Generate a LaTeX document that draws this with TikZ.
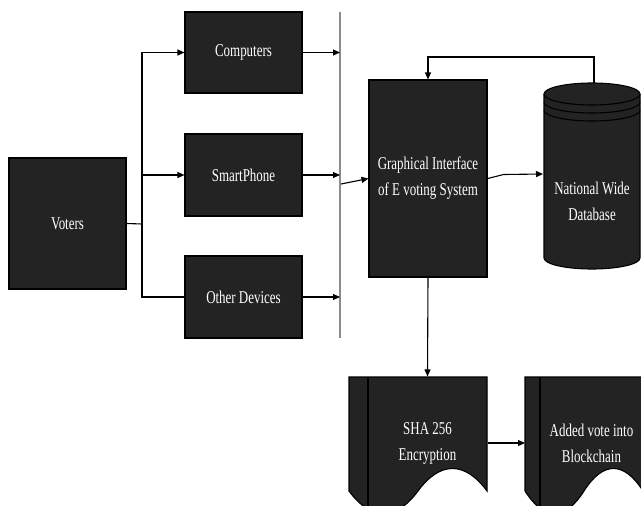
\documentclass[tikz,border=0pt]{standalone}
\usepackage{fontspec}
\setmainfont{Liberation Serif}[FakeStretch=0.72]
\usetikzlibrary{arrows.meta,calc,positioning}
\definecolor{boxgray}{HTML}{232323}
\definecolor{bargray}{HTML}{8C8C8C}
\tikzset{>={Triangle[length=7pt,width=6pt]},auto}
\tikzset{block/.style={draw=black,fill=boxgray,text=white,align=center,font=\fontsize{18}{26}\selectfont}}
\tikzset{label text/.style={text=white,align=center,font=\fontsize{18}{26}\selectfont}}

\begin{document}
\begin{tikzpicture}[x=1pt,y=-1pt,line width=1.1pt]
        \useasboundingbox (0,0) rectangle (641,506);
        \clip (0,0) rectangle (641,506);
        % database cylinder
        \filldraw[fill=boxgray,draw=black] (544,94) -- (544,258) arc[start angle=180,end angle=360,x radius=48pt,y radius=11pt]
                -- (640,94) arc[start angle=0,end angle=180,x radius=48pt,y radius=11pt] -- cycle;
        \foreach \y in {94,102,110}
                \draw[black] (544,\y) arc[start angle=180,end angle=360,x radius=48pt,y radius=11pt];
        % documents
        \filldraw[fill=boxgray,draw=black] (349,377) -- (487,377) -- (487,491) .. controls (465,461) and (440,461) .. (418,491)
                .. controls (396,521) and (371,521) .. (349,491) -- cycle;
        \draw[black] (368,377) -- (368,510);
        \filldraw[fill=boxgray,draw=black] (525,377) -- (643,377) -- (643,491) .. controls (624,461) and (603,461) .. (584,491)
                .. controls (565,521) and (544,521) .. (525,491) -- cycle;
        \draw[black] (540,377) -- (540,510);

        \node[block,minimum width=117,minimum height=131] (voters) at (67.5,223.5) {Voters};
        \node[block,minimum width=117,minimum height=81] (comp) at (243.5,52.5) {Computers};
        \node[block,minimum width=117,minimum height=82] (phone) at (243.5,175) {SmartPhone};
        \node[block,minimum width=117,minimum height=82] (other) at (243.5,297) {Other Devices};
        \node[block,minimum width=118,minimum height=197] (gui) at (428,178.5) {Graphical Interface\\of E voting System};
        \node[label text] (db) at (592,201) {National Wide\\Database};
        \node[label text,minimum width=119,minimum height=132] (sha) at (427.5,443) {SHA 256\\Encryption};
        \node[label text,minimum width=103,minimum height=132] (blk) at (591.5,443) {Added vote into\\Blockchain};

        \coordinate (split) at (142,224);
        \coordinate (bartop) at (340,12);
        \coordinate (barbot) at (340,338);
        \coordinate (barout) at (341,184);
        \coordinate (dbin) at (543,174);
        \coordinate (dbtop) at (594,83);
        \coordinate (blkin) at (525,443);

        \draw[bargray,line width=2pt] (bartop) -- (barbot);
        \draw (voters.east) -- (split);
        \draw[->] (split) |- (comp.west);
        \draw[->] (split) |- (phone.west);
        \draw (split) |- (other.west);
        \draw[->] (comp.east) -- (comp.east -| bartop);
        \draw[->] (phone.east) -- (phone.east -| bartop);
        \draw[->] (other.east) -- (other.east -| bartop);
        \draw[->] (barout) -- (gui.west);
        \draw[->] (gui.east) -- ++(16,-4) -- (dbin);
        \draw[->] (dbtop) -- ++(0,-26) -| (gui.north);
        \draw[->] (gui.south) -- (sha.north);
        \draw[->] (sha.east) -- (blkin);
\end{tikzpicture}
\end{document}
